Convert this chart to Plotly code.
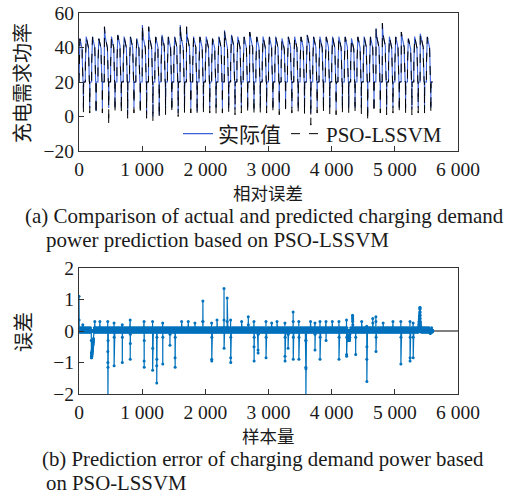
import numpy as np
import plotly.graph_objects as go

W, H = 519, 494

# ---------------- data ----------------
CYCLE_LEN = 100
N_CYC = 56

# one daily cycle shape (hump level 46, dip 5)
tpl_rise = [20, 31, 40]
tpl_hump = [41, 42.5, 43.5, 44.3, 44.9, 45.3, 45.6, 45.8, 46, 46, 46, 46, 46, 46,
            45.9, 45.8, 45.6, 45.4, 45.2, 45, 44.7, 44.4, 44.1, 43.8, 43.5, 43.2,
            42.9, 42.6, 42.3, 42, 41.8, 41.6, 41.4, 41.2, 41, 40.8, 40.6, 40.5,
            40.4, 40.3, 40.2, 40.1, 40, 40, 40, 40, 40, 40]
tpl_fall = [34, 26]
tpl_low1 = [20] * 16
tpl_dip = [13, 5, 10, 16]

peak_level = [45, 46, 46, 45, 46, 46, 47, 46, 46, 45,
              46, 46, 46, 47, 46, 46, 46, 46, 46, 46,
              46, 45, 46, 46, 47, 46, 46, 46, 46, 46,
              46, 46, 45, 46, 46, 46, 47, 46, 46, 46,
              46, 46, 46, 45, 46, 46, 46, 46, 47, 46,
              46, 46, 45, 46, 46, 46]
overshoot = [0, 0, 0, 0, 52, 0, 0, 0, 0, 0,
             53, 52, 0, 0, 0, 0, 53, 52, 0, 0,
             0, 0, 0, 50, 0, 0, 0, 49, 0, 0,
             0, 0, 0, 0, 0, 0, 0, 0, 0, 0,
             0, 0, 0, 0, 0, 0, 0, 51, 54, 0,
             0, 49, 0, 0, 48, 0]
dip_actual = [5, 5, 3, 5, 5, 5, 5, 1, 5, 5,
              1, 0, 1, 5, 5, 2, 5, 5, 3, 5,
              5, 5, 5, 5, 4, 5, 5, 4, 5, 5,
              5, 4, 5, 5, 5, 5, 2, 5, 5, 5,
              4, 5, 5, 5, 5, 2, 5, 5, 4, 5,
              5, 5, 4, 5, 5, 5]
dip_pred = [2, 2, 1, 2, -5, 2, 2, -1, 2, 1,
            -1, -3, -1, 1, 2, 0, 2, 2, 1, 2,
            2, 1, 2, 2, 1, 2, 2, 1, 2, 2,
            2, 1, 2, 2, 2, 1, -5, 2, 2, 1,
            1, 2, 2, 2, 1, -3, 2, 2, 1, 2,
            2, 1, 1, 2, 2, 2]

err_base = [0.02, -0.01, 0.1, 0.0, -0.03, 0.01, 0.03, -0.02, 0.01, -0.02,
            0.02, 0.0, -0.01, 0.02, -0.02, 0.01, 0.0, 0.02, -0.02, 0.01]
err_spikes = [
    (0, [1.1, 0.35, 0.1]),
    (60, [0.2, 0.1]),
    (195, [-0.3, -0.7, -0.85, -0.85, -0.84, -0.82, -0.8, -0.78, -0.76, -0.74,
           -0.72, -0.7, -0.68, -0.66, -0.64, -0.62, -0.6, -0.58, -0.56, -0.54,
           -0.52, -0.5, -0.48, -0.46, -0.44, -0.42, -0.4, -0.38, -0.36, -0.34,
           -0.32, -0.3, -0.28, -0.26, -0.24]),
    (250, [0.3, 0.1]),
    (330, [0.3, 0.1]),
    (455, [0.3, -0.65, -1.0, -2.1, -1.15, -0.3]),
    (555, [0.25, -1.1, -0.2]),
    (685, [0.2, -1.0, -0.2]),
    (810, [0.35, -0.9, -0.4, -0.1]),
    (1030, [0.3, -0.95, -1.15, -0.3]),
    (1165, [0.3, -1.25, -0.55]),
    (1230, [-1.1, -1.65, -0.9, -0.2]),
    (1325, [0.25, -1.05, -0.2]),
    (1440, [-0.45, -0.1]),
    (1520, [0.1, -0.85, -1.15, -0.2]),
    (1625, [0.3]),
    (1730, [0.3]),
    (1835, [0.25]),
    (1960, [0.3, 0.95, 0.3]),
    (2100, [0.25, -0.9, -0.95, -0.2]),
    (2185, [0.35]),
    (2295, [0.35, 1.35, -0.55, 0.1]),
    (2345, [0.3, 1.05, 0.1]),
    (2400, [0.35, -0.85, -1.0, -0.2]),
    (2575, [0.3]),
    (2680, [0.45, 0.2]),
    (2770, [0.3, -0.5, -0.95, -0.2]),
    (2835, [-0.6, -0.7, -0.1]),
    (2960, [0.3, -0.85, -0.2]),
    (3050, [0.25]),
    (3135, [0.3]),
    (3260, [0.25, -0.8, -0.95, -0.2]),
    (3310, [-0.55, -0.1]),
    (3390, [0.6, 0.3, -0.9, -0.2]),
    (3480, [0.3, -0.9, -0.2]),
    (3590, [-0.3, -1.15, -2.1, -1.2, -0.3]),
    (3665, [0.3]),
    (3735, [0.25, -0.6, -0.1]),
    (3815, [0.3, -0.9, -0.2]),
    (3910, [0.3, -0.3]),
    (4010, [0.3]),
    (4115, [0.3, -0.9, -0.2]),
    (4235, [0.35, -0.75, -0.8, -0.2]),
    (4260, [-0.15, -0.25, -0.3, -0.2, -0.28, -0.15, -0.3, -0.22, -0.25, -0.3,
            -0.18, -0.27, -0.3, -0.2, -0.25, -0.15, -0.28, -0.2, -0.3, -0.22,
            -0.25, -0.18, -0.3, -0.2, -0.15, -0.25, -0.2, -0.1]),
    (4330, [0.5, 0.45, 0.4, 0.3, 0.35, 0.2]),
    (4380, [-0.75, -0.2]),
    (4475, [0.3]),
    (4555, [0.15, -0.9, -1.6, -0.5]),
    (4650, [0.4, 0.25]),
    (4700, [0.45, 0.3, -0.65, -0.2]),
    (4815, [0.25]),
    (4970, [0.3]),
    (5095, [0.3, -1.05, -0.2]),
    (5240, [0.3, -0.95, -0.85, -0.2]),
    (5290, [0.25, -0.85, -0.2]),
    (5380, [0.1, 0.15, 0.2, 0.25, 0.2, 0.3, 0.25, 0.35, 0.3, 0.4,
            0.35, 0.45, 0.5, 0.45, 0.55, 0.6, 0.7, 0.75, 0.75, 0.7,
            0.6, 0.5, 0.4, 0.3, 0.25, 0.2, 0.15, 0.1]),
    (5560, [-0.05, -0.08, -0.05, -0.06, -0.04]),
]

x_ticks = [0, 1000, 2000, 3000, 4000, 5000, 6000]
x_ticktext = ["0", "1 000", "2 000", "3 000", "4 000", "5 000", "6 000"]
y1_ticks = [-20, 0, 20, 40, 60]
y1_ticktext = ["\u221220", "0", "20", "40", "60"]
y2_ticks = [-2, -1, 0, 1, 2]
y2_ticktext = ["\u22122", "\u22121", "0", "1", "2"]

# ---------------- build series ----------------
def build(dips):
    out = []
    for c in range(N_CYC):
        scale = (peak_level[c] - 20) / 26.0
        hump = [20 + (v - 20) * scale for v in tpl_hump]
        if overshoot[c] > 0:
            hump[0] = overshoot[c]
        d = dips[c]
        dip = [20 - (20 - v) * (20 - d) / 15.0 for v in tpl_dip]
        seg = tpl_rise + hump + tpl_fall + tpl_low1 + dip
        seg = seg + [20] * (CYCLE_LEN - len(seg))
        out.extend(seg)
    return np.array(out, dtype=float)

actual = build(dip_actual)
pred = build(dip_pred)
n = len(actual)
xs = np.arange(n)

err = np.tile(np.array(err_base), n // len(err_base) + 1)[:n].copy()
for start, vals in err_spikes:
    for k, v in enumerate(vals):
        if start + k < n:
            err[start + k] = v

# ---------------- figure ----------------
def px(x):
    return x / W

def py(y):
    return 1 - y / H

SERIF = "Liberation Serif, Times New Roman, serif"
CJK = "Noto Sans CJK SC, sans-serif"
MIX = "Liberation Serif, Noto Sans CJK SC, serif"

fig = go.Figure()
fig.add_trace(go.Scatter(x=xs, y=actual, mode="lines", name="实际值",
                         line=dict(color="#3a62d8", width=1.1),
                         xaxis="x", yaxis="y"))
fig.add_trace(go.Scatter(x=xs, y=pred, mode="lines", name="PSO-LSSVM",
                         line=dict(color="#000000", width=1.0, dash="dash"),
                         xaxis="x", yaxis="y"))
fig.add_trace(go.Scatter(x=xs, y=err, mode="lines+markers", showlegend=False,
                         line=dict(color="#0072BD", width=1.2),
                         marker=dict(color="#0072BD", size=3),
                         xaxis="x2", yaxis="y2"))

axis_common = dict(showline=True, mirror=True, linecolor="#333333", linewidth=1.2,
                   ticks="inside", ticklen=5, tickcolor="#333333", tickwidth=1.2,
                   showgrid=False, automargin=False,
                   tickfont=dict(family=SERIF, size=19.5, color="#1a1a1a"))

fig.update_layout(
    width=W, height=H, autosize=False,
    margin=dict(l=0, r=0, t=0, b=0, pad=0),
    paper_bgcolor="white", plot_bgcolor="white",
    xaxis=dict(domain=[px(79), px(458)], range=[0, 6000], tickvals=x_ticks,
               ticktext=x_ticktext, zeroline=False, anchor="y", **axis_common),
    yaxis=dict(domain=[py(151), py(13)], range=[-20, 60], tickvals=y1_ticks,
               ticktext=y1_ticktext, zeroline=False, anchor="x", **axis_common),
    xaxis2=dict(domain=[px(79), px(458)], range=[0, 6000], tickvals=x_ticks,
                ticktext=x_ticktext, zeroline=False, anchor="y2", **axis_common),
    yaxis2=dict(domain=[py(394), py(268)], range=[-2, 2], tickvals=y2_ticks,
                ticktext=y2_ticktext, zeroline=True, zerolinecolor="#808080",
                zerolinewidth=1.6, anchor="x2", **axis_common),
    legend=dict(orientation="h", x=px(178), y=py(134), xanchor="left", yanchor="middle",
                bgcolor="rgba(0,0,0,0)", font=dict(family=MIX, size=21, color="#1a1a1a"),
                tracegroupgap=0, itemwidth=30),
    showlegend=True,
)

ann = []
def add_text(x, y, text, size, family, xanchor="center", angle=0):
    ann.append(dict(x=px(x), y=py(y), xref="paper", yref="paper", text=text,
                    showarrow=False, xanchor=xanchor, yanchor="middle", borderpad=0,
                    textangle=angle, font=dict(family=family, size=size, color="#1a1a1a")))

add_text(22, 83, "充电需求功率", 20, CJK, angle=-90)
add_text(268, 192, "相对误差", 17.5, CJK)
add_text(24, 216, "(a) Comparison of actual and predicted charging demand", 21, SERIF, xanchor="left")
add_text(45, 239.5, "power prediction based on PSO-LSSVM", 21, SERIF, xanchor="left")
add_text(22, 332, "误差", 20, CJK, angle=-90)
add_text(268, 435, "样本量", 17.5, CJK)
add_text(41, 459, "(b) Prediction error of charging demand power based", 20.8, SERIF, xanchor="left")
add_text(45, 482, "on PSO-LSSVM", 20.8, SERIF, xanchor="left")
fig.update_layout(annotations=ann)

fig.write_html("out.html", post_script="document.body.style.margin='0';document.body.style.padding='0';")
